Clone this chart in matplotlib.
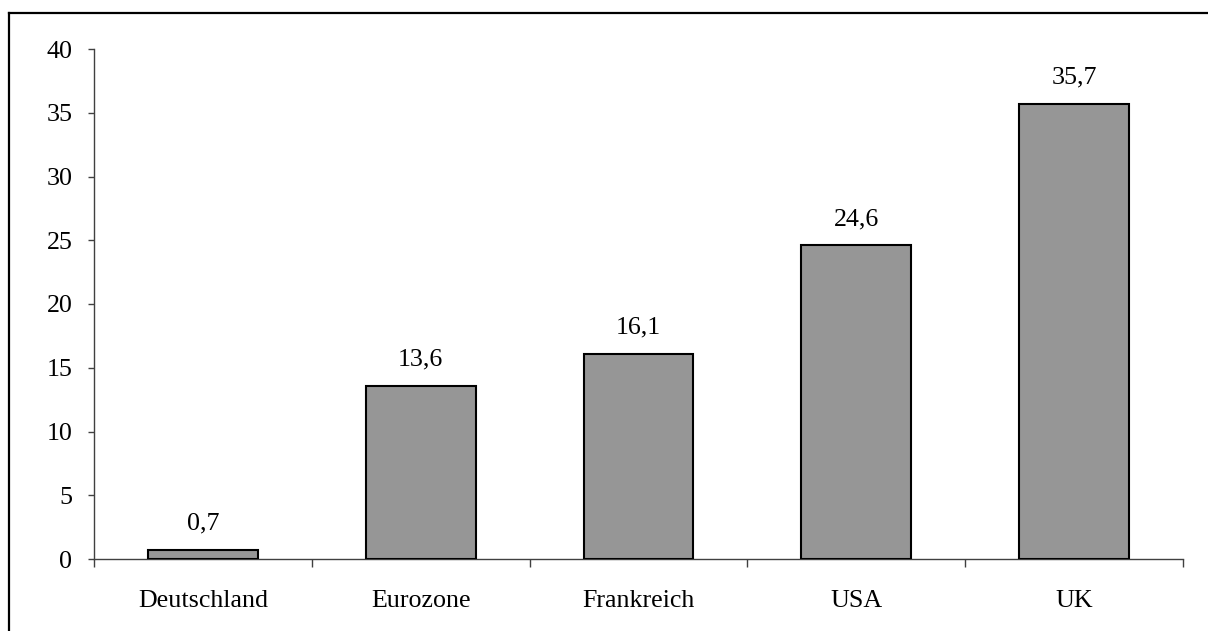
import matplotlib
matplotlib.use("Agg")
import matplotlib.pyplot as plt
from matplotlib.lines import Line2D
from matplotlib.ticker import FixedLocator

# Data
categories = ["Deutschland", "Eurozone", "Frankreich", "USA", "UK"]
values = [0.7, 13.6, 16.1, 24.6, 35.7]
y_ticks = [0, 5, 10, 15, 20, 25, 30, 35, 40]

plt.rcParams["font.family"] = ["Liberation Serif", "DejaVu Serif"]
FS = 18.7

W, H, DPI = 1208, 631, 100
fig = plt.figure(figsize=(W / DPI, H / DPI), dpi=DPI)
ax = fig.add_axes([94 / W, 1 - 559 / H, (1183 - 94) / W, (559 - 49) / H])

x = list(range(len(categories)))
bars = ax.bar(x, values, width=0.505, color="#969696", edgecolor="black",
              linewidth=1.5, zorder=3)

for xi, v in zip(x, values):
    ax.annotate(f"{v:.1f}".replace(".", ","), (xi, v), xytext=(0, 11),
                textcoords="offset points", ha="center", va="bottom",
                fontsize=FS)

ax.set_xlim(-0.5, len(categories) - 0.5)
ax.set_ylim(0, 40)
ax.set_yticks(y_ticks)
ax.set_yticklabels([str(t) for t in y_ticks], fontsize=FS)

# Category boundaries carry the tick marks, labels sit at the centres
ax.xaxis.set_major_locator(FixedLocator([i - 0.5 for i in range(len(categories) + 1)]))
ax.xaxis.set_major_formatter(plt.NullFormatter())
ax.xaxis.set_minor_locator(FixedLocator(x))
ax.set_xticklabels(categories, minor=True, fontsize=FS)
ax.tick_params(axis="x", which="major", direction="out", length=6, width=1,
               color="#404040")
ax.tick_params(axis="x", which="minor", length=0, pad=22)
ax.tick_params(axis="y", direction="out", length=4.5, width=1, color="#404040",
               pad=11)

for side in ("top", "right"):
    ax.spines[side].set_visible(False)
for side in ("left", "bottom"):
    ax.spines[side].set_color("#404040")
    ax.spines[side].set_linewidth(1)

# Frame lines along the top and left of the chart area
top_y = 1 - 12.5 / H
left_x = 9 / W
fig.add_artist(Line2D([left_x, 1.0], [top_y, top_y], transform=fig.transFigure,
                      color="black", linewidth=1.6, solid_capstyle="projecting"))
fig.add_artist(Line2D([left_x, left_x], [0.0, top_y], transform=fig.transFigure,
                      color="black", linewidth=1.6, solid_capstyle="projecting"))

fig.savefig("out.png", dpi=DPI, facecolor="white")
